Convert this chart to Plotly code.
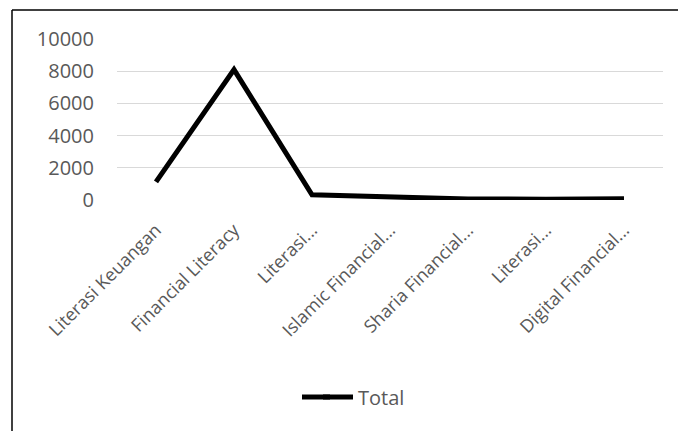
import plotly.graph_objects as go

# Category labels as shown on the axis (long names are cut short)
categories = [
    "Literasi Keuangan",
    "Financial Literacy",
    "Literasi...",
    "Islamic Financial...",
    "Sharia Financial...",
    "Literasi...",
    "Digital Financial...",
]
# Unique keys so repeated labels stay separate categories
category_keys = [f"c{i}" for i in range(len(categories))]
total_values = [1130, 8100, 320, 160, 60, 50, 80]
y_ticks = [0, 2000, 4000, 6000, 8000, 10000]
y_tick_labels = ["0", "2000", "4000", "6000", "8000", "10000"]

FONT = "Open Sans"
GREY = "#595959"
GRID = "#D9D9D9"

# Plot-area pixel geometry (678 x 431 canvas)
L, R, T, B = 117, 15, 39, 231
W, H = 678 - L - R, 431 - T - B


def px_x(px):
    return (px - L) / W


def px_y(py):
    return (431 - B - py) / H


LEGEND_Y = 397

fig = go.Figure()
fig.add_trace(go.Scatter(
    x=category_keys,
    y=total_values,
    mode="lines",
    name="Total",
    line=dict(color="#000000", width=5),
))

fig.update_layout(
    width=678,
    height=431,
    margin=dict(l=L, r=R, t=T, b=B),
    paper_bgcolor="white",
    plot_bgcolor="white",
    font=dict(family=FONT, size=20, color=GREY),
    showlegend=True,
    legend=dict(
        orientation="h",
        x=px_x(318),
        xanchor="left",
        y=px_y(LEGEND_Y),
        yanchor="middle",
        font=dict(family=FONT, size=20, color=GREY),
        bgcolor="rgba(0,0,0,0)",
    ),
    xaxis=dict(
        type="category",
        tickmode="array",
        tickvals=category_keys,
        ticktext=categories,
        tickangle=-45,
        showgrid=False,
        showline=False,
        zeroline=False,
        ticks="",
        ticklabelstandoff=15,
        tickfont=dict(family=FONT, size=18, color=GREY),
        range=[-0.5, len(categories) - 0.5],
    ),
    yaxis=dict(
        range=[0, 10000],
        tickmode="array",
        tickvals=y_ticks,
        ticktext=y_tick_labels,
        showgrid=True,
        gridcolor=GRID,
        gridwidth=1,
        zeroline=False,
        showline=False,
        ticks="",
        ticklabelstandoff=22,
        tickfont=dict(family=FONT, size=20, color=GREY),
    ),
    shapes=[
        # chart frame: top and left edges
        dict(type="line", xref="paper", yref="paper",
             x0=px_x(12), x1=px_x(700), y0=px_y(10), y1=px_y(10),
             line=dict(color="#000000", width=1.5), layer="above"),
        dict(type="line", xref="paper", yref="paper",
             x0=px_x(12), x1=px_x(12), y0=px_y(10), y1=px_y(450),
             line=dict(color="#000000", width=1.5), layer="above"),
        # longer legend key line
        dict(type="line", xref="paper", yref="paper",
             x0=px_x(302), x1=px_x(330), y0=px_y(LEGEND_Y), y1=px_y(LEGEND_Y),
             line=dict(color="#000000", width=5), layer="above"),
    ],
)

fig.write_html("out.html")
